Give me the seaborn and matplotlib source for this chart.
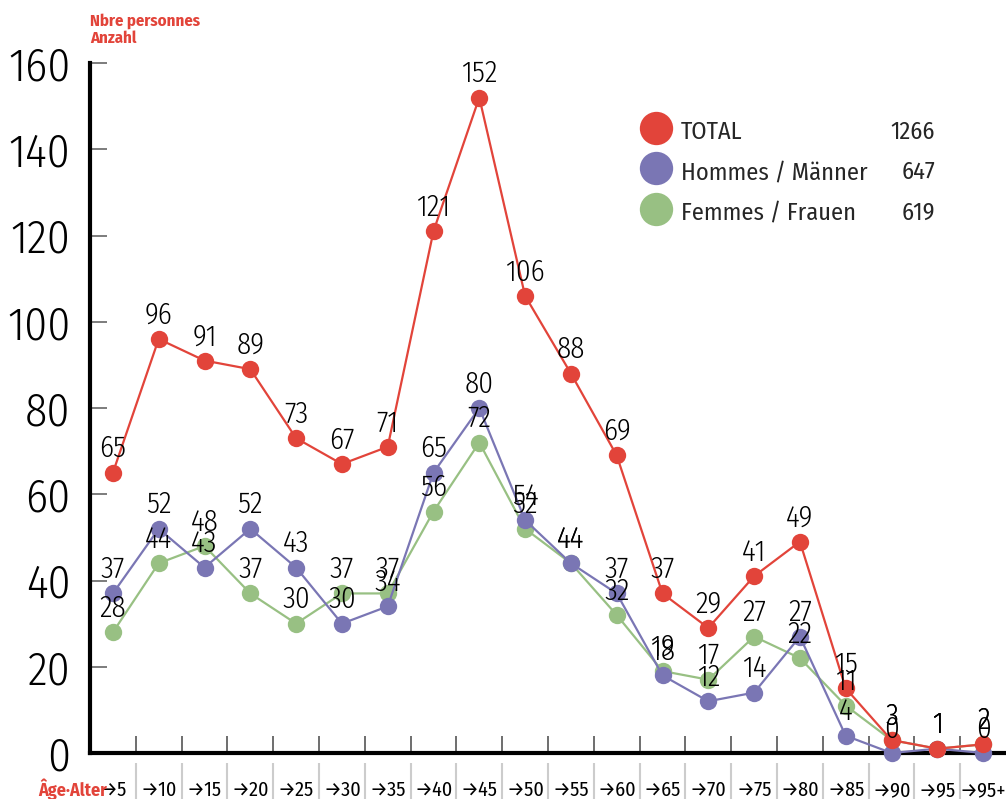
import matplotlib
matplotlib.use("Agg")
import matplotlib.pyplot as plt
import matplotlib.transforms as mtransforms
from matplotlib.lines import Line2D
import numpy as np
import pandas as pd
import seaborn as sns

# age classes (x axis)
age_labels = ["→5", "→10", "→15", "→20", "→25", "→30", "→35", "→40", "→45", "→50",
              "→55", "→60", "→65", "→70", "→75", "→80", "→85", "→90", "→95", "→95+"]

# number of persons per age class
total = [65, 96, 91, 89, 73, 67, 71, 121, 152, 106, 88, 69, 37, 29, 41, 49, 15, 3, 1, 2]
hommes = [37, 52, 43, 52, 43, 30, 34, 65, 80, 54, 44, 37, 18, 12, 14, 27, 4, 0, 1, 0]
femmes = [28, 44, 48, 37, 30, 37, 37, 56, 72, 52, 44, 32, 19, 17, 27, 22, 11, 3, 1, 2]

series_names = ["TOTAL", "Hommes / Männer", "Femmes / Frauen"]
series_totals = ["1266", "647", "619"]

RED = "#E2443A"
PURPLE = "#7A76B4"
GREEN = "#98C083"

sns.set_theme(style="white")
plt.rcParams["font.family"] = ["Fira Sans Condensed", "Roboto Condensed", "PT Sans Narrow",
                               "Archivo Narrow", "DejaVu Sans"]

df = pd.DataFrame({"pos": np.arange(len(age_labels)),
                   "total": total, "hommes": hommes, "femmes": femmes})

fig = plt.figure(figsize=(10.06, 7.99), dpi=100)
ax = fig.add_axes([90 / 1006, 46 / 799, 916 / 1006, 690 / 799])

# draw green first, red on top
for col, color, z in [("femmes", GREEN, 3), ("hommes", PURPLE, 4), ("total", RED, 5)]:
    sns.lineplot(data=df, x="pos", y=col, color=color, marker="o", markersize=12.5,
                 markeredgewidth=0, linewidth=1.6, ax=ax, zorder=z, clip_on=False)

# value labels above each point
for col in ["femmes", "hommes", "total"]:
    for x, v in zip(df["pos"], df[col]):
        ax.annotate(str(v), (x, v), xytext=(0, 11), textcoords="offset points",
                    ha="center", va="baseline", fontsize=21, fontweight=300,
                    color="black", zorder=10, annotation_clip=False)

ax.set_xlim(-0.5, len(age_labels) - 0.5)
ax.set_ylim(0, 160)
ax.set_xlabel("")
ax.set_ylabel("")

ax.set_yticks(range(0, 161, 20))
ax.tick_params(axis="y", direction="in", length=12, width=1.2, color="#666666",
               labelsize=33, pad=14, left=True, labelcolor="black")
for lab in ax.get_yticklabels():
    lab.set_fontweight(300)

ax.set_xticks(df["pos"])
ax.set_xticklabels(age_labels)
ax.tick_params(axis="x", which="major", length=0, labelsize=14.5, pad=20, labelcolor="black")
ax.set_xticks(np.arange(0.5, len(age_labels) - 0.5, 1), minor=True)
ax.tick_params(axis="x", which="minor", direction="in", length=12, width=1.2,
               color="#555555", bottom=True)

for s in ["top", "right"]:
    ax.spines[s].set_visible(False)
for s in ["left", "bottom"]:
    ax.spines[s].set_linewidth(3)
    ax.spines[s].set_color("black")

# separators between the age labels
trans = mtransforms.blended_transform_factory(ax.transData, ax.transAxes)
ax.vlines(np.arange(0.5, len(age_labels) - 0.5, 1), -0.015, -0.07, transform=trans,
          colors="#cccccc", linewidth=1.5, clip_on=False)

fig.text(107 / 1006, 3 / 799, "Âge·Alter", ha="right", va="baseline",
         fontsize=13, fontweight="bold", color=RED)
fig.text(90 / 1006, 1 - 13 / 799, "Nbre personnes\nAnzahl", ha="left", va="top",
         fontsize=12, fontweight="bold", color=RED, linespacing=1.15)

# legend: names with dots, totals right aligned
handles = [Line2D([], [], linestyle="none", marker="o", markersize=24,
                  markerfacecolor=c, markeredgewidth=0) for c in [RED, PURPLE, GREEN]]
leg1 = ax.legend(handles, series_names, loc="upper left",
                 bbox_to_anchor=(644.6 / 1006, 1 - 117 / 799), bbox_transform=fig.transFigure,
                 frameon=False, fontsize=17.5, handlelength=0.95, handleheight=1.4,
                 handletextpad=0.55, labelspacing=0.5, borderpad=0, borderaxespad=0)
ax.add_artist(leg1)
blank = [Line2D([], [], linestyle="none") for _ in series_totals]
ax.legend(blank, series_totals, loc="upper right",
          bbox_to_anchor=(935 / 1006, 1 - 117 / 799), bbox_transform=fig.transFigure,
          frameon=False, fontsize=17.5, handlelength=0, handleheight=1.4,
          handletextpad=0, labelspacing=0.5, borderpad=0, borderaxespad=0,
          markerfirst=False)

fig.savefig("out.png", dpi=100)
